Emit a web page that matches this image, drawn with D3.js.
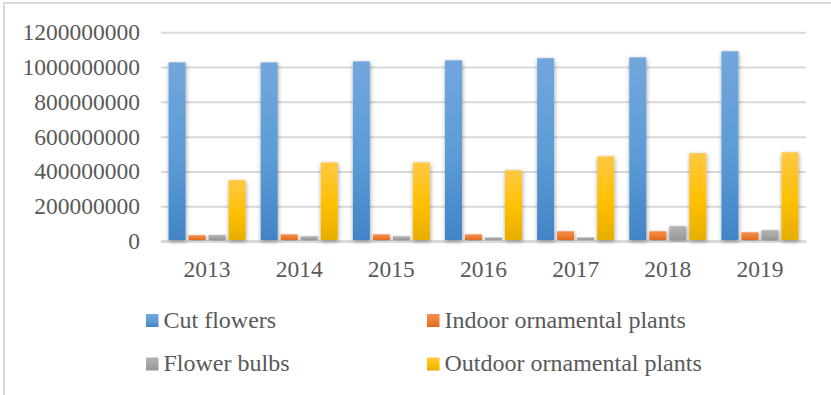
<!DOCTYPE html>
<html>
<head>
<meta charset="utf-8">
<script src="https://cdn.jsdelivr.net/npm/d3@7"></script>
<style>
  html, body { margin: 0; padding: 0; background: #ffffff; }
  svg { display: block; }
</style>
</head>
<body>
<svg id="chart" width="831" height="395"></svg>
<script>
// Export value by product group and year
const years = ["2013", "2014", "2015", "2016", "2017", "2018", "2019"];
const seriesNames = ["Cut flowers", "Indoor ornamental plants", "Flower bulbs", "Outdoor ornamental plants"];
const cutFlowers       = [1027000000, 1027000000, 1033000000, 1039000000, 1051000000, 1056000000, 1091000000];
const indoorPlants     = [33000000, 38000000, 38000000, 38000000, 56000000, 56000000, 50000000];
const flowerBulbs      = [34000000, 27000000, 27000000, 21000000, 21000000, 85000000, 62000000];
const outdoorPlants    = [350000000, 452000000, 452000000, 407000000, 487000000, 505000000, 510000000];
const yTicks = [0, 200000000, 400000000, 600000000, 800000000, 1000000000, 1200000000];

const seriesValues = [cutFlowers, indoorPlants, flowerBulbs, outdoorPlants];
const seriesColors = [
  { top: "#72a7dd", mid: "#5b9bd5", bottom: "#4284c6" },
  { top: "#f58c50", mid: "#ed7d31", bottom: "#e0691f" },
  { top: "#b3b3b3", mid: "#a5a5a5", bottom: "#959595" },
  { top: "#ffc845", mid: "#ffc000", bottom: "#e6ae00" }
];

const FONT = "'Liberation Serif', 'Times New Roman', Times, serif";
const TEXT_COLOR = "#595959";

const svg = d3.select("#chart");
const defs = svg.append("defs");

// vertical gradients for each series
seriesColors.forEach((c, i) => {
  const g = defs.append("linearGradient")
    .attr("id", "grad" + i).attr("x1", 0).attr("y1", 0).attr("x2", 0).attr("y2", 1);
  g.append("stop").attr("offset", "0%").attr("stop-color", c.top);
  g.append("stop").attr("offset", "55%").attr("stop-color", c.mid);
  g.append("stop").attr("offset", "100%").attr("stop-color", c.bottom);
});

// soft shadow around the columns
const f = defs.append("filter").attr("id", "shadow")
  .attr("x", "-60%").attr("y", "-10%").attr("width", "220%").attr("height", "120%");
f.append("feDropShadow").attr("dx", 0.5).attr("dy", 1.5).attr("stdDeviation", 2.2)
  .attr("flood-color", "#000").attr("flood-opacity", 0.38);

// chart area frame
svg.append("line").attr("x1", 4).attr("x2", 4).attr("y1", 3).attr("y2", 395)
  .attr("stroke", "#d9d9d9").attr("stroke-width", 2);
svg.append("line").attr("x1", 3).attr("x2", 831).attr("y1", 3).attr("y2", 3)
  .attr("stroke", "#d9d9d9").attr("stroke-width", 2);

const plotLeft = 161, plotRight = 806, plotTop = 32.3, plotBottom = 241;

const x = d3.scaleBand().domain(years).range([plotLeft, plotRight]).paddingInner(0).paddingOuter(0);
const xs = d3.scaleBand().domain(d3.range(seriesNames.length)).range([0, x.bandwidth()])
  .paddingInner(0.15).paddingOuter(0.378);
const y = d3.scaleLinear().domain([0, 1200000000]).range([plotBottom, plotTop]);

// value axis with gridlines
const yAxis = d3.axisLeft(y).tickValues(yTicks).tickSize(-(plotRight - plotLeft))
  .tickFormat(d3.format("d")).tickPadding(21);
const gy = svg.append("g").attr("transform", `translate(${plotLeft},0)`).call(yAxis);
gy.attr("font-family", null).attr("font-size", null);
gy.select(".domain").remove();
gy.selectAll(".tick line")
  .attr("stroke", "#d9d9d9")
  .attr("stroke-width", d => d === 0 ? 3 : 2);
gy.selectAll(".tick text")
  .style("font-family", FONT).style("font-size", "23.5px").style("fill", TEXT_COLOR);

// columns
const groups = svg.append("g").selectAll("g")
  .data(years).join("g")
  .attr("transform", d => `translate(${x(d)},0)`);

groups.selectAll("rect")
  .data((yr, yi) => seriesValues.map((vals, si) => ({ si, v: vals[yi] })))
  .join("rect")
  .attr("x", d => xs(d.si))
  .attr("width", xs.bandwidth())
  .attr("y", d => y(d.v))
  .attr("height", d => y(0) - y(d.v) - 1)
  .attr("fill", d => `url(#grad${d.si})`)
  .attr("filter", "url(#shadow)");

// category labels
const xAxis = d3.axisBottom(x).tickSize(0).tickPadding(0);
const gx = svg.append("g").attr("transform", `translate(0,${plotBottom})`).call(xAxis);
gx.attr("font-family", null).attr("font-size", null);
gx.select(".domain").remove();
gx.selectAll(".tick text")
  .attr("y", 36).attr("dy", 0)
  .style("font-family", FONT).style("font-size", "23.5px").style("fill", TEXT_COLOR);

// legend
const legendPos = [
  { x: 146, y: 314 }, { x: 427, y: 314 },
  { x: 146, y: 357.5 }, { x: 427, y: 357.5 }
];
const legend = svg.append("g").selectAll("g")
  .data(seriesNames).join("g")
  .attr("transform", (d, i) => `translate(${legendPos[i].x},${legendPos[i].y})`);
legend.append("rect").attr("width", 12.5).attr("height", 13)
  .attr("fill", (d, i) => `url(#grad${i})`);
legend.append("text").attr("x", 17.5).attr("y", 13.5)
  .style("font-family", FONT).style("font-size", "24px").style("fill", TEXT_COLOR)
  .text(d => d);
</script>
</body>
</html>
